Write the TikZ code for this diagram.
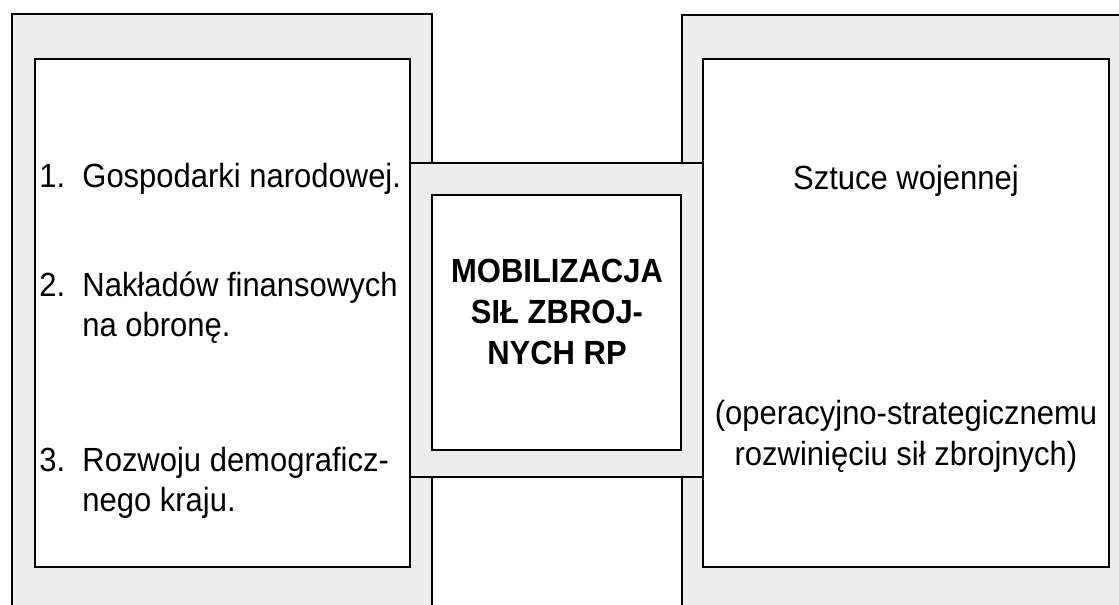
\documentclass[tikz,border=0pt]{standalone}
\usepackage{fontspec}
\setmainfont[FakeStretch=0.925]{Liberation Sans}
\tikzset{
  txt/.style={font=\fontsize{16.75}{20}\selectfont,inner sep=0pt},
  bold/.style={txt,font=\fontsize{16.75}{20}\selectfont\bfseries},
  frame/.style={line width=1.1pt}
}
\begin{document}
\begin{tikzpicture}[x=0.5pt,y=-0.5pt]
  \useasboundingbox (0,0) rectangle (1119,605);
  % shaded frame: left box, band, right box
  \fill[black!7] (12,620)--(12,14)--(432,14)--(432,163)--(682,163)--(682,15)
    --(1130,15)--(1130,620)--(682,620)--(682,477)--(432,477)--(432,620)--cycle;
  \draw[frame] (12,620)--(12,14)--(432,14)--(432,163);
  \draw[frame] (432,477)--(432,620);
  \draw[frame] (682,163)--(682,15)--(1130,15);
  \draw[frame] (682,477)--(682,620);
  \draw[frame] (410,163)--(703,163);
  \draw[frame] (410,477)--(703,477);
  \filldraw[frame,fill=white] (35,59) rectangle (410,567);
  \filldraw[frame,fill=white] (703,59) rectangle (1109,567);
  \filldraw[frame,fill=white] (432,195) rectangle (681,450);
  % left box
  \node[txt,anchor=base west] (n1) at (39,187) {1.};
  \node[txt,anchor=base west] (gosp) at (82,187) {Gospodarki narodowej.};
  \node[txt,anchor=base west] (n2) at (39,296) {2.};
  \node[txt,anchor=base west] (naklad) at (82,296) {Nakładów finansowych};
  \node[txt,anchor=base west] (obrona) at (82,336) {na obronę.};
  \node[txt,anchor=base west] (n3) at (39,471) {3.};
  \node[txt,anchor=base west] (demogr) at (82,471) {Rozwoju demograficz-};
  \node[txt,anchor=base west] (kraj) at (82,511) {nego kraju.};
  % centre
  \node[bold,anchor=base] (mobil) at (557,282) {MOBILIZACJA};
  \node[bold,anchor=base] (sil) at (557,323) {SIŁ ZBROJ-};
  \node[bold,anchor=base] (rp) at (557,364) {NYCH RP};
  % right box
  \node[txt,anchor=base] (sztuka) at (906,189) {Sztuce wojennej};
  \node[txt,anchor=base] (operac) at (906,424) {(operacyjno-strategicznemu};
  \node[txt,anchor=base] (rozwin) at (906,465) {rozwinięciu sił zbrojnych)};
\end{tikzpicture}
\end{document}
